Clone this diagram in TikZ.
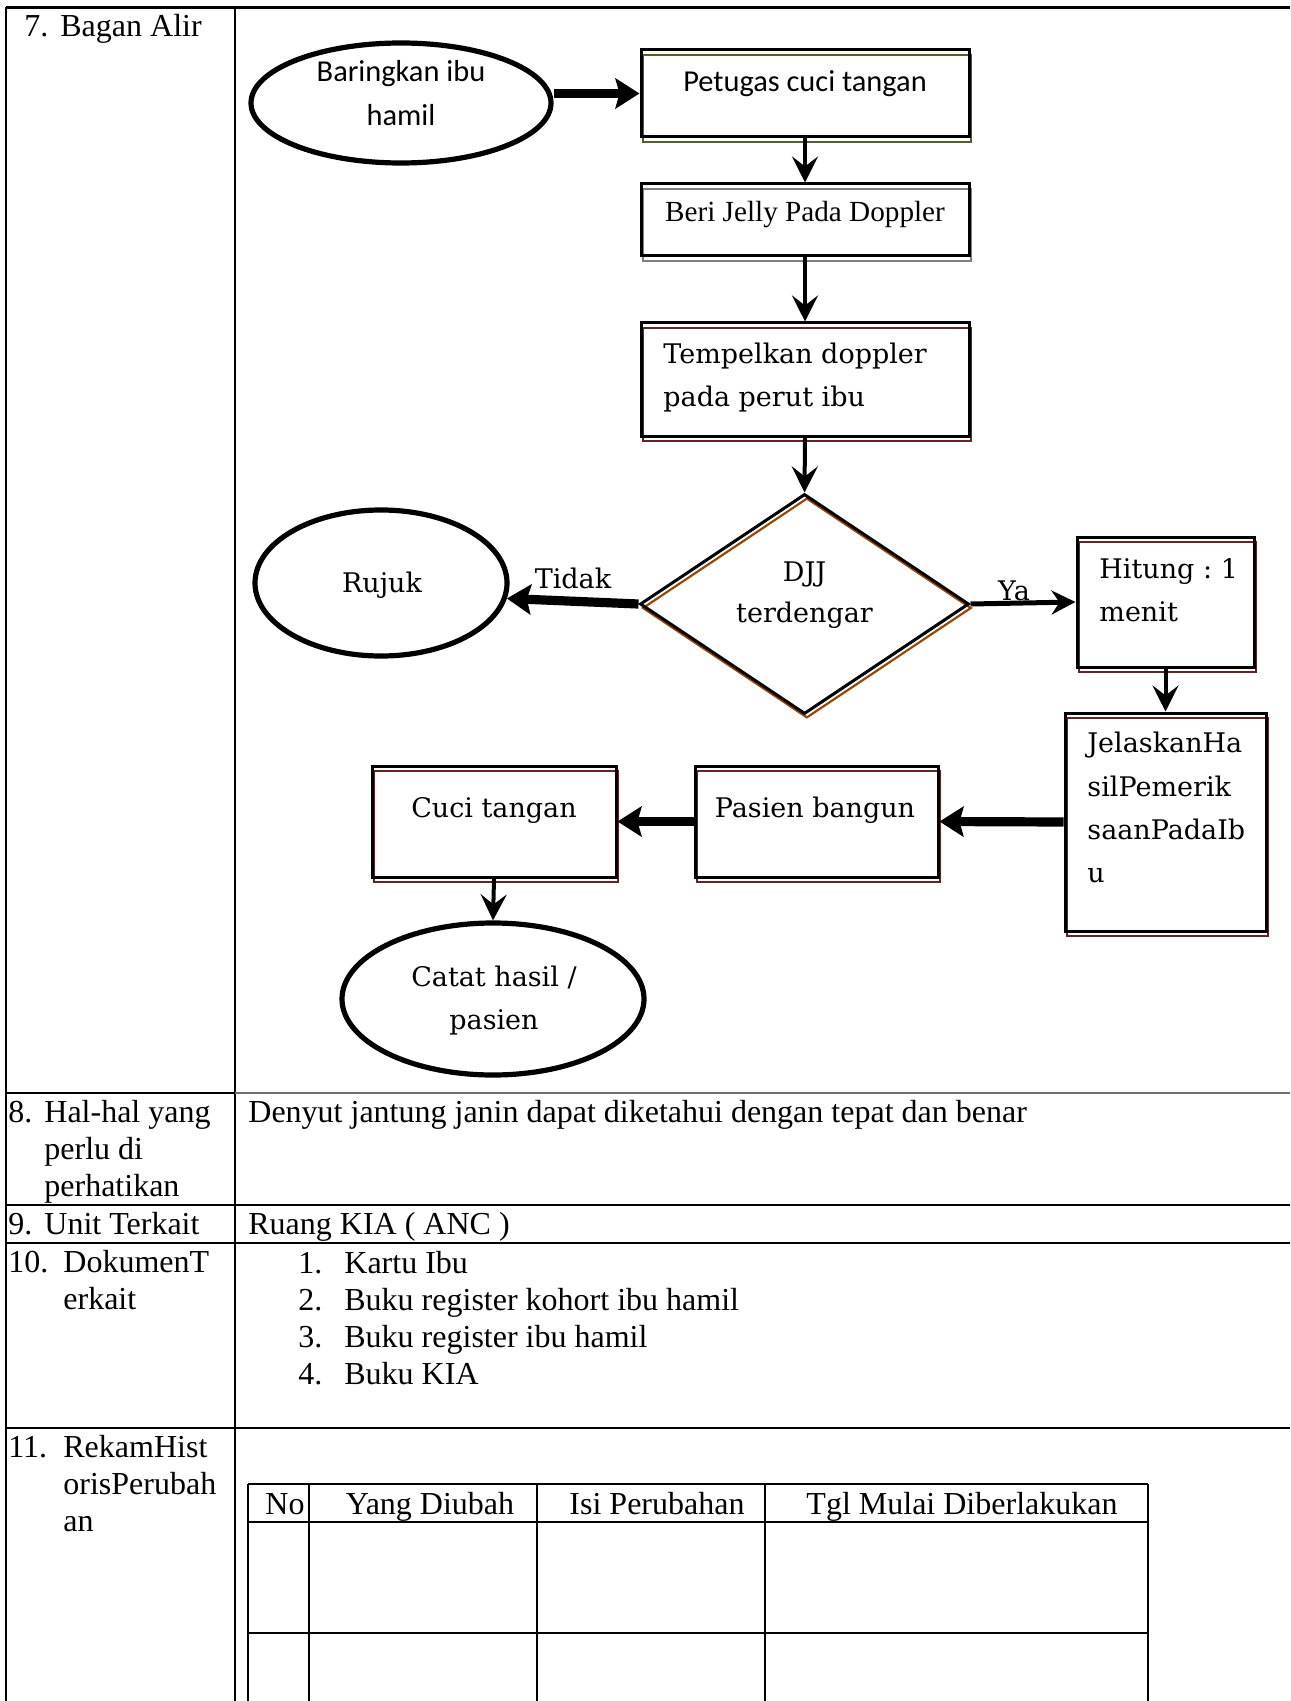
\documentclass[tikz,border=0pt]{standalone}
\usepackage{fontspec}
\setmainfont{Liberation Serif}
\newfontfamily\calibrifont{Carlito}
\newfontfamily\cambriafont{DejaVu Serif}
\usetikzlibrary{shapes.geometric, arrows.meta, calc}
\definecolor{olivesh}{HTML}{4F6228}
\definecolor{graysh}{HTML}{7F7F7F}
\definecolor{redsh}{HTML}{632423}
\definecolor{brownsh}{HTML}{984806}
\definecolor{tblgray}{HTML}{6E6E6E}
\begin{document}
\begin{tikzpicture}[x=0.5pt, y=-0.5pt,
  tbl/.style={line width=1.15pt},
  tt/.style={font=\fontsize{16pt}{18.5pt}\selectfont, inner sep=0pt, anchor=base west},
  ttc/.style={font=\fontsize{16pt}{18.5pt}\selectfont, inner sep=0pt, anchor=base},
  cal/.style={font=\calibrifont\fontsize{15.2pt}{20pt}\selectfont, inner sep=0pt, anchor=base},
  tms/.style={font=\fontsize{14.6pt}{18pt}\selectfont, inner sep=0pt, anchor=base},
  cam/.style={font=\cambriafont\fontsize{13.5pt}{20pt}\selectfont, inner sep=0pt, anchor=base west},
  camc/.style={font=\cambriafont\fontsize{13.5pt}{20pt}\selectfont, inner sep=0pt, anchor=base},
  box/.style={rectangle, draw=black, line width=1.5pt, inner sep=0pt,
    preaction={draw=#1, line width=1.1pt, transform canvas={xshift=1.1pt, yshift=-2.4pt}}},
  oval/.style={ellipse, draw=black, line width=2.6pt, inner sep=0pt},
  thinarr/.style={line width=2pt, -{Stealth[length=13pt,width=13pt,inset=5pt]}},
  yaarr/.style={line width=2.5pt, -{Stealth[length=12pt,width=12pt,inset=4pt]}},
  thickarr/.style={line width=4.6pt, -{Stealth[length=12pt,width=15pt,inset=2pt]}}
]
\useasboundingbox[fill=white] (0,0) rectangle (1290,1701);

% ---------- outer table ----------
\draw[tbl] (6,7.5) -- (1290,7.5);
\draw[tbl] (6,7.5) -- (6,1701);
\draw[tbl] (235,7.5) -- (235,1701);
\draw[tbl] (6,1093) -- (235,1093);
\draw[tbl, draw=tblgray] (235,1093) -- (1290,1093);
\draw[tbl] (6,1205) -- (1290,1205);
\draw[tbl] (6,1243) -- (1290,1243);
\draw[tbl] (6,1428) -- (1290,1428);

% left column
\node[tt] (n7) at (24,37) {7.};
\node[tt] (l7) at (60,37) {Bagan Alir};
\node[tt] (n8) at (8,1122) {8.};
\node[tt] (l8a) at (44,1122) {Hal-hal yang};
\node[tt] (l8b) at (44,1159) {perlu di};
\node[tt] (l8c) at (44,1196) {perhatikan};
\node[tt] (n9) at (8,1234) {9.};
\node[tt] (l9) at (44,1234) {Unit Terkait};
\node[tt] (n10) at (8,1272) {10.};
\node[tt] (l10a) at (63,1272) {DokumenT};
\node[tt] (l10b) at (63,1309) {erkait};
\node[tt] (n11) at (8,1457) {11.};
\node[tt] (l11a) at (63,1457) {RekamHist};
\node[tt] (l11b) at (63,1494) {orisPerubah};
\node[tt] (l11c) at (63,1531) {an};

% right column
\node[tt] (r8) at (248,1122) {Denyut jantung janin dapat diketahui dengan tepat dan benar};
\node[tt] (r9) at (248,1234) {Ruang KIA ( ANC )};
\node[tt] (k1) at (298,1273) {1.};
\node[tt] (d1) at (344,1273) {Kartu Ibu};
\node[tt] (k2) at (298,1310) {2.};
\node[tt] (d2) at (344,1310) {Buku register kohort ibu hamil};
\node[tt] (k3) at (298,1347) {3.};
\node[tt] (d3) at (344,1347) {Buku register ibu hamil};
\node[tt] (k4) at (298,1384) {4.};
\node[tt] (d4) at (344,1384) {Buku KIA};

% inner table
\draw[tbl] (248,1484) -- (1148,1484);
\draw[tbl] (248,1522) -- (1148,1522);
\draw[tbl] (248,1633) -- (1148,1633);
\foreach \xx in {248,309,537,765,1148} \draw[tbl] (\xx,1484) -- (\xx,1701);
\node[ttc] (h1) at (285,1514) {No};
\node[ttc] (h2) at (430,1514) {Yang Diubah};
\node[ttc] (h3) at (657,1514) {Isi Perubahan};
\node[ttc] (h4) at (962,1514) {Tgl Mulai Diberlakukan};

% ---------- flowchart ----------
\node[oval, minimum width=150pt, minimum height=60pt] (e1) at (401,103) {};
\node[cal] (e1a) at (401,82) {Baringkan ibu};
\node[cal] (e1b) at (401,126) {hamil};

\node[box=olivesh, minimum width=164pt, minimum height=43.5pt] (b1) at (805,93.5) {};
\node[cal] (b1t) at (805,92) {Petugas cuci tangan};

\node[box=graysh, minimum width=164pt, minimum height=36pt] (b2) at (805,220) {};
\node[tms] (b2t) at (805,222) {Beri Jelly Pada Doppler};

\node[box=redsh, minimum width=164pt, minimum height=56.5pt] (b3) at (805,379.5) {};
\node[cam] (b3a) at (663,364) {Tempelkan doppler};
\node[cam] (b3b) at (663,407) {pada perut ibu};

\node[diamond, draw=black, line width=1.5pt, inner sep=0pt,
  preaction={draw=brownsh, line width=1.1pt, transform canvas={xshift=1.2pt, yshift=-2pt}},
  minimum width=164.5pt, minimum height=110pt] (dj) at (804.5,604) {};
\node[camc] (dja) at (804.5,581) {DJJ};
\node[camc] (djb) at (804.5,622) {terdengar};

\node[oval, minimum width=126pt, minimum height=73pt] (rj) at (381,583) {};
\node[camc] (rjt) at (382,592) {Rujuk};

\node[box=redsh, minimum width=88.5pt, minimum height=65pt] (hi) at (1165.5,602) {};
\node[cam] (hia) at (1099,578) {Hitung :~1};
\node[cam] (hib) at (1099,621) {menit};

\node[box=redsh, minimum width=100.5pt, minimum height=109pt] (je) at (1165.5,822) {};
\node[cam] (jea) at (1087,752) {JelaskanHa};
\node[cam] (jeb) at (1087,796) {silPemerik};
\node[cam] (jec) at (1087,839) {saanPadaIb};
\node[cam] (jed) at (1087,882) {u};

\node[box=redsh, minimum width=121.5pt, minimum height=55.5pt] (pb) at (816.5,821.5) {};
\node[camc] (pbt) at (815,817) {Pasien bangun};

\node[box=redsh, minimum width=122pt, minimum height=55.5pt] (ct) at (494,821.5) {};
\node[camc] (ctt) at (494,817) {Cuci tangan};

\node[oval, minimum width=151pt, minimum height=76pt] (ca) at (493,999) {};
\node[camc] (caa) at (494,986) {Catat hasil /};
\node[camc] (cab) at (494,1029) {pasien};

% connectors
\draw[thickarr] (e1.east |- b1.west) -- (b1.west);
\draw[thinarr] (b1.south) -- (b2.north);
\draw[thinarr] (b2.south) -- (b3.north);
\draw[thinarr] (b3.south) -- (dj.north);
\draw[thickarr] (dj.west) -- (rj.-7);
\draw[yaarr] (dj.east) -- (hi.west);
\draw[thinarr] (hi.south) -- (je.north);
\draw[thickarr] (je.west) -- (pb.east);
\draw[thickarr] (pb.west) -- (ct.east);
\draw[thinarr] (ct.south) -- (ca.north);

\node[camc] (tidak) at (573,588) {Tidak};
\node[camc] (ya) at (1014,600) {Ya};
\end{tikzpicture}
\end{document}
